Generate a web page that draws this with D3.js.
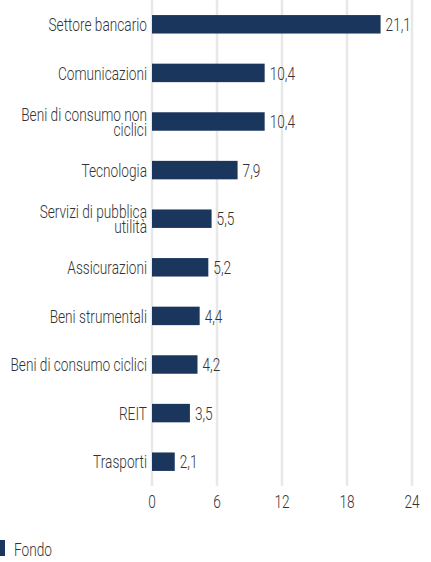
<!DOCTYPE html>
<html lang="it">

<head>
    <meta charset="UTF-8">
    <title>Settori</title>
    <style>
        body { margin: 0; background: #fff; }
        text { font-family: Roboto, "Liberation Sans Narrow", sans-serif; font-weight: 300; fill: #333; }
    </style>
</head>

<body>
    <div id="wrapper"></div>
    <script src="https://d3js.org/d3.v7.min.js"></script>
    <script>
        // dati
        const categories = ['Settore bancario', 'Comunicazioni', 'Beni di consumo non ciclici', 'Tecnologia',
            'Servizi di pubblica utilità', 'Assicurazioni', 'Beni strumentali', 'Beni di consumo ciclici', 'REIT', 'Trasporti'];
        const fondo = [21.1, 10.4, 10.4, 7.9, 5.5, 5.2, 4.4, 4.2, 3.5, 2.1];
        const ticks = [0, 6, 12, 18, 24];
        const seriesName = 'Fondo';

        const width = 431,
            height = 562,
            left = 152,
            right = 412,
            barColor = '#1b365d',
            fontSize = 18,
            squeeze = 0.76; // font condensato

        const svg = d3.select('#wrapper').append('svg')
            .attr('width', width)
            .attr('height', height);

        const x = d3.scaleLinear().domain([0, 24]).range([left, right]);
        const y = d3.scaleBand().domain(categories).range([0, 486])
            .paddingInner(0.62).paddingOuter(0.31);

        // testo condensato (anche su più righe)
        function condText(g, str, tx, ty, anchor, lines, lh) {
            lines = lines || [String(str)];
            lh = lh || 0;
            const t = g.append('text')
                .attr('transform', `translate(${tx},${ty}) scale(${squeeze},1)`)
                .attr('text-anchor', anchor)
                .attr('dominant-baseline', 'central')
                .style('font-size', fontSize + 'px');
            lines.forEach((l, j) => {
                t.append('tspan')
                    .attr('x', 0)
                    .attr('y', (j - (lines.length - 1) / 2) * lh)
                    .attr('dominant-baseline', 'central')
                    .text(l);
            });
            return t;
        }

        function textWidth(str) {
            const t = svg.append('text').style('font-size', fontSize + 'px').text(str);
            const w = t.node().getComputedTextLength() * squeeze;
            t.remove();
            return w;
        }

        function wrap(str, maxW) {
            const words = str.split(' ');
            const lines = [];
            let line = [];
            words.forEach(w => {
                const test = line.concat(w).join(' ');
                if (line.length && textWidth(test) > maxW) {
                    lines.push(line.join(' '));
                    line = [w];
                } else line.push(w);
            });
            lines.push(line.join(' '));
            return lines;
        }

        // griglia
        svg.append('g').selectAll('line').data(ticks).join('line')
            .attr('x1', d => x(d)).attr('x2', d => x(d))
            .attr('y1', 0).attr('y2', 486)
            .attr('stroke', '#e8e8e8').attr('stroke-width', 2.5);

        // barre
        svg.append('g').selectAll('rect').data(fondo).join('rect')
            .attr('x', x(0))
            .attr('y', (d, i) => y(categories[i]))
            .attr('width', d => x(d) - x(0))
            .attr('height', y.bandwidth())
            .attr('fill', barColor);

        // etichette valori
        const vals = svg.append('g');
        fondo.forEach((d, i) => {
            condText(vals, d3.format('.1f')(d).replace('.', ','), x(d) + 5, y(categories[i]) + y.bandwidth() / 2, 'start');
        });

        // etichette categorie
        const cats = svg.append('g');
        categories.forEach(c => {
            const cy = y(c) + y.bandwidth() / 2;
            condText(cats, c, left - 5, cy, 'end', wrap(c, 140), 15.5);
        });

        // asse x
        const ax = svg.append('g');
        ticks.forEach(t => condText(ax, t, x(t), 501, 'middle'));

        // legenda
        svg.append('rect').attr('x', 0).attr('y', 540).attr('width', 5).attr('height', 16).attr('fill', barColor);
        condText(svg, seriesName, 14, 549, 'start');
    </script>
</body>

</html>
